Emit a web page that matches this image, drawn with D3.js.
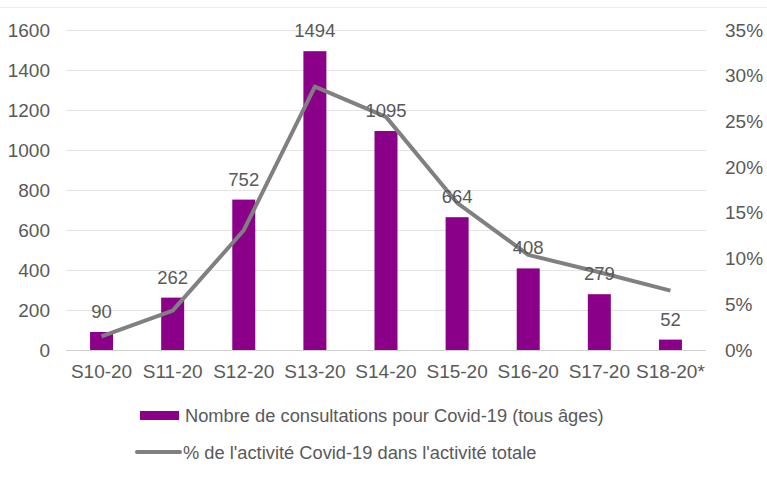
<!DOCTYPE html>
<html><head><meta charset="utf-8">
<script src="https://cdn.jsdelivr.net/npm/d3@7"></script>
<style>body{margin:0;background:#fff}svg{display:block}text{font-family:"Liberation Sans",Arial,sans-serif;fill:#595959}</style>
</head><body>
<svg id="c" width="767" height="478"></svg>
<script>
const categories = ["S10-20","S11-20","S12-20","S13-20","S14-20","S15-20","S16-20","S17-20","S18-20*"];
const consultations = [90,262,752,1494,1095,664,408,279,52];
const pctActivity = [1.5,4.3,13.1,28.8,25.5,16.1,10.4,8.5,6.5];
const leftTicks = [0,200,400,600,800,1000,1200,1400,1600];
const rightTicks = [0,5,10,15,20,25,30,35];
const legendLabels = ["Nombre de consultations pour Covid-19 (tous âges)","% de l'activité Covid-19 dans l'activité totale"];

const svg = d3.select("#c");
const L = 66, R = 706, T = 30, B = 350;
const FS = 19;
const x = d3.scaleBand().domain(categories).range([L,R]);
const y = d3.scaleLinear().domain([0,1600]).range([B,T]);
const y2 = d3.scaleLinear().domain([0,35]).range([B,T]);

svg.append("line").attr("x1",0).attr("x2",767).attr("y1",7.5).attr("y2",7.5).attr("stroke","#ececec");

// gridlines
svg.append("g").selectAll("line").data(leftTicks).join("line")
  .attr("x1",L).attr("x2",R).attr("y1",d=>Math.round(y(d))+0.5).attr("y2",d=>Math.round(y(d))+0.5)
  .attr("stroke",d=>d===0?"#d0d0d0":"#e3e3e3").attr("stroke-width",1.2);

function styleText(g){
  g.selectAll("text").attr("font-size",FS).style("fill","#595959").attr("font-family","Liberation Sans, Arial, sans-serif");
}
// left axis
const ga = svg.append("g").attr("transform",`translate(${L},0)`)
  .call(d3.axisLeft(y).tickValues(leftTicks).tickSize(0).tickPadding(16).tickFormat(d3.format("d")));
ga.select(".domain").remove(); styleText(ga);

// right axis
const gr = svg.append("g").attr("transform",`translate(${R},0)`)
  .call(d3.axisRight(y2).tickValues(rightTicks).tickSize(0).tickPadding(19).tickFormat(d=>d+"%"));
gr.select(".domain").remove(); styleText(gr);

// x axis
const gx = svg.append("g").attr("transform",`translate(0,${B})`)
  .call(d3.axisBottom(x).tickSize(0).tickPadding(15));
gx.select(".domain").remove(); styleText(gx);

// bars
const bw = 23;
svg.append("g").selectAll("rect").data(consultations).join("rect")
  .attr("x",(d,i)=>x(categories[i])+x.bandwidth()/2-bw/2)
  .attr("y",d=>y(d)).attr("width",bw).attr("height",d=>B-y(d))
  .attr("fill","#8b0089");

// line
const line = d3.line().x((d,i)=>x(categories[i])+x.bandwidth()/2).y(d=>y2(d));
svg.append("path").datum(pctActivity).attr("d",line).attr("fill","none")
  .attr("stroke","#808080").attr("stroke-width",4).attr("stroke-linejoin","round");

// data labels
svg.append("g").selectAll("text").data(consultations).join("text")
  .attr("x",(d,i)=>x(categories[i])+x.bandwidth()/2)
  .attr("y",d=>y(d)-14).attr("text-anchor","middle").attr("font-size",18.5).text(d=>d);

// legend
const lg = svg.append("g");
lg.append("rect").attr("x",140).attr("y",411).attr("width",39).attr("height",9).attr("fill","#8b0089");
lg.append("text").attr("x",185).attr("y",422).attr("font-size",18.3).text(legendLabels[0]);
lg.append("line").attr("x1",137).attr("x2",180).attr("y1",452).attr("y2",452).attr("stroke","#808080").attr("stroke-width",4).attr("stroke-linecap","round");
lg.append("text").attr("x",183).attr("y",459).attr("font-size",18.3).text(legendLabels[1]);
</script>
</body></html>
